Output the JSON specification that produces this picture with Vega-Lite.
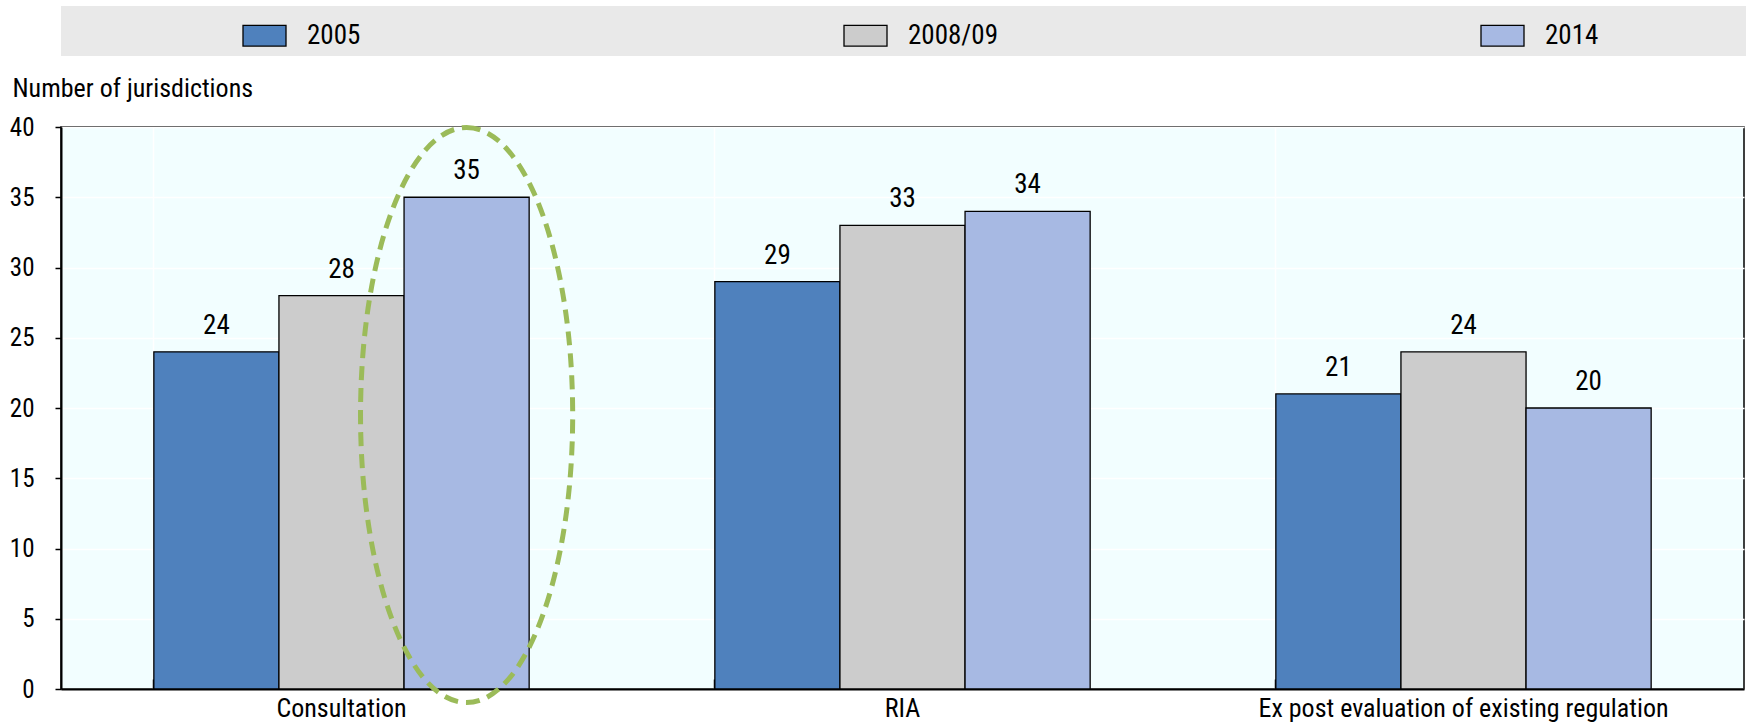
{
  "$schema": "https://vega.github.io/schema/vega-lite/v6.json",
  "width": 1683,
  "height": 562,
  "autosize": "none",
  "padding": {"left": 61, "top": 127, "right": 6, "bottom": 39},
  "background": "white",
  "config": {
    "font": "Liberation Sans Narrow, Roboto Condensed, Liberation Sans",
    "view": {"fill": "#F2FEFF", "stroke": "black", "strokeWidth": 1.5}
  },
  "data": {
    "values": [
      {"category": "Consultation", "series": "2005", "value": 24},
      {"category": "Consultation", "series": "2008/09", "value": 28},
      {"category": "Consultation", "series": "2014", "value": 35},
      {"category": "RIA", "series": "2005", "value": 29},
      {"category": "RIA", "series": "2008/09", "value": 33},
      {"category": "RIA", "series": "2014", "value": 34},
      {"category": "Ex post evaluation of existing regulation", "series": "2005", "value": 21},
      {"category": "Ex post evaluation of existing regulation", "series": "2008/09", "value": 24},
      {"category": "Ex post evaluation of existing regulation", "series": "2014", "value": 20}
    ]
  },
  "encoding": {
    "x": {
      "field": "category",
      "type": "nominal",
      "sort": ["Consultation", "RIA", "Ex post evaluation of existing regulation"],
      "scale": {"paddingInner": 0.331, "paddingOuter": 0.1655},
      "axis": {
        "title": null,
        "labelAngle": 0,
        "labelFontSize": 26,
        "labelColor": "black",
        "labelLimit": 600,
        "labelPadding": 16,
        "bandPosition": 0,
        "tickSize": -10,
        "tickColor": "black",
        "tickWidth": 1.5,
        "domainColor": "black",
        "domainWidth": 2,
        "grid": true,
        "gridColor": "white",
        "gridWidth": 1.5
      }
    },
    "xOffset": {
      "field": "series",
      "type": "nominal",
      "sort": ["2005", "2008/09", "2014"],
      "scale": {"paddingInner": 0, "paddingOuter": 0}
    },
    "y": {
      "field": "value",
      "type": "quantitative",
      "scale": {"domain": [0, 40], "nice": false},
      "axis": {
        "values": [0, 5, 10, 15, 20, 25, 30, 35, 40],
        "title": "Number of jurisdictions",
        "titleAngle": 0,
        "titleAlign": "left",
        "titleBaseline": "alphabetic",
        "titleX": -49,
        "titleY": -31,
        "titleFontSize": 26,
        "titleFontWeight": "normal",
        "titleColor": "black",
        "labelFontSize": 25,
        "labelColor": "black",
        "labelPadding": 21,
        "tickSize": 6,
        "tickColor": "black",
        "tickWidth": 1.5,
        "domainColor": "black",
        "domainWidth": 2,
        "gridColor": "white",
        "gridWidth": 1.5
      }
    }
  },
  "layer": [
    {
      "mark": {"type": "bar", "stroke": "black", "strokeWidth": 1.3},
      "encoding": {
        "fill": {
          "field": "series",
          "type": "nominal",
          "sort": ["2005", "2008/09", "2014"],
          "scale": {"domain": ["2005", "2008/09", "2014"], "range": ["#4F81BD", "#CCCCCC", "#A7B9E3"]},
          "legend": {
            "orient": "none",
            "legendX": 0,
            "legendY": -121,
            "direction": "horizontal",
            "title": " ",
            "titleOrient": "left",
            "titleFontSize": 1,
            "titlePadding": 174,
            "fillColor": "#E9E9E9",
            "padding": 7,
            "columnPadding": 480,
            "symbolType": "M -1 -0.48 H 1 V 0.48 H -1 Z",
            "symbolSize": 1849,
            "symbolStrokeColor": "black",
            "symbolStrokeWidth": 1.3,
            "labelFontSize": 27,
            "labelColor": "black",
            "labelOffset": 20,
            "labelLimit": 400,
            "labelExpr": "datum.label == '2014' ? datum.label + '\u2800\u2800\u2800\u2800\u2800\u2800\u2800' : datum.label"
          }
        }
      }
    },
    {
      "mark": {"type": "text", "baseline": "bottom", "dy": -12, "fontSize": 27, "color": "black"},
      "encoding": {"text": {"field": "value", "type": "quantitative"}}
    },
    {
      "transform": [{"filter": "datum.category == 'Consultation' && datum.series == '2014'"}],
      "mark": {
        "type": "point",
        "shape": "M 0 -1 C 0.2038 -1 0.369 -0.5523 0.369 0 C 0.369 0.5523 0.2038 1 0 1 C -0.2038 1 -0.369 0.5523 -0.369 0 C -0.369 -0.5523 -0.2038 -1 0 -1 Z",
        "size": 330625,
        "filled": false,
        "stroke": "#9BBB59",
        "strokeWidth": 5,
        "strokeDash": [14, 8],
        "opacity": 1
      },
      "encoding": {"y": {"datum": 19.5}}
    }
  ]
}
